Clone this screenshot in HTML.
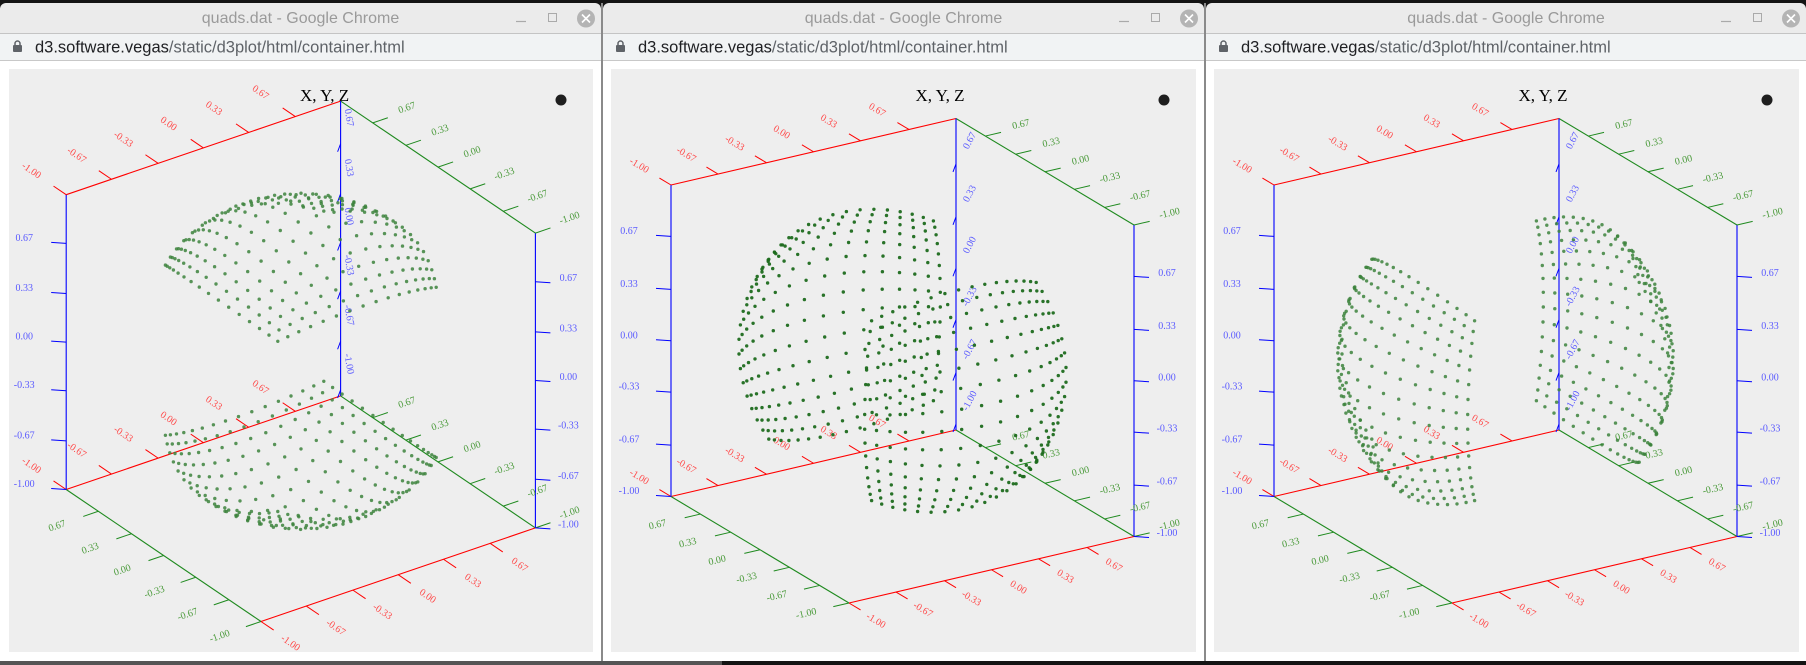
<!DOCTYPE html>
<html><head><meta charset="utf-8"><title>quads.dat</title>
<style>
html,body{margin:0;padding:0;background:#111;}
body{width:1806px;height:665px;overflow:hidden;position:relative;font-family:"Liberation Sans",sans-serif;}
svg{position:absolute;left:0;top:0;}
</style></head>
<body>
<svg id="scene" width="1806" height="665" viewBox="0 0 1806 665" xmlns="http://www.w3.org/2000/svg">
  <rect x="0" y="0" width="1806" height="665" fill="#141414"/>
  <rect x="0" y="661" width="722" height="4" fill="#555"/>
  <g id="windows"></g>
</svg>
<script>
// ---- data ----
const windowNames = ["window-c-faces", "window-b-faces", "window-a-faces"];
const tickValues = [-1.00, -0.67, -0.33, 0.00, 0.33, 0.67];
const tickLabels = ["-1.00", "-0.67", "-0.33", "0.00", "0.33", "0.67"];
const gridU = [-1, -0.8667, -0.7333, -0.6, -0.4667, -0.3333, -0.2, -0.0667, 0.0667, 0.2, 0.3333, 0.4667, 0.6, 0.7333, 0.8667, 1];
const facesW1 = [["c", 1], ["c", -1]];
const facesW2 = [["b", 1], ["b", -1]];
const facesW3 = [["a", 1], ["a", -1]];
const chartTitle = "X, Y, Z";

// ---- layout (not data) ----
const NS = "http://www.w3.org/2000/svg";
const wins = [
  {x0:0, x1:601, px0:9, px1:593, C:[300.8,361.3], R:[137.2,-46.8], G:[-97.4,-66], V:[0,-147.4], cRot:80, cOff:[8,-32], faces:facesW1, dot:"#3c823c", op:0.85},
  {x0:603, x1:1204, px0:611, px1:1196, C:[902.5,360.75], R:[142.5,-33.25], G:[-89,-53.25], V:[0,-155.75], cRot:-62, cOff:[14,-29], faces:facesW2, dot:"#1c6a1c", op:0.95},
  {x0:1206, x1:1806, px0:1214, px1:1799, C:[1505.5,360.75], R:[142.5,-33.25], G:[-89,-53.25], V:[0,-155.75], cRot:-62, cOff:[14,-29], faces:facesW3, dot:"#3c823c", op:0.85}
];
const root = document.getElementById("windows");

function mk(tag, attrs, parent){
  const e = document.createElementNS(NS, tag);
  for (const k in attrs) e.setAttribute(k, attrs[k]);
  parent.appendChild(e);
  return e;
}
function proj(w, a, b, c){
  return [w.C[0] + a*w.R[0] + b*w.G[0] + c*w.V[0], w.C[1] + a*w.R[1] + b*w.G[1] + c*w.V[1]];
}

wins.forEach((w, wi) => {
  const g = mk("g", {}, root);
  
  
  const W = w.x1 - w.x0;
  // chrome
  const tb = mk("rect", {x:w.x0, y:3, width:W, height:31, fill:"#ebebeb", rx:6}, g);
  
  
  mk("rect", {x:w.x0, y:20, width:W, height:14, fill:"#ebebeb"}, g);
  mk("line", {x1:w.x0, y1:33.5, x2:w.x1, y2:33.5, stroke:"#c4c4c4"}, g);
  const tt = mk("text", {x:w.x0+W/2, y:23, "text-anchor":"middle", "font-size":"16", fill:"#9a9a9a", "font-family":"Liberation Sans, sans-serif"}, g);
  tt.textContent = "quads.dat - Google Chrome";
  
  
  const mn = mk("line", {x1:w.x1-85, y1:21.5, x2:w.x1-75, y2:21.5, stroke:"#aaa", "stroke-width":1.2}, g);
  
  
  const mx = mk("rect", {x:w.x1-52.5, y:13.5, width:8, height:8, fill:"none", stroke:"#aaa"}, g);
  
  
  const cl = mk("circle", {cx:w.x1-15, cy:18.5, r:9, fill:"#b4b4b4"}, g);
  
  
  mk("path", {d:`M${w.x1-19} ${14.5}L${w.x1-11} ${22.5}M${w.x1-11} ${14.5}L${w.x1-19} ${22.5}`, stroke:"#fff", "stroke-width":1.6}, g);
  const ub = mk("rect", {x:w.x0, y:34, width:W, height:26, fill:"#f1f3f4"}, g);
  
  
  mk("line", {x1:w.x0, y1:60.5, x2:w.x1, y2:60.5, stroke:"#c8c8c8"}, g);
  const lk = mk("g", {}, g);
  
  
  mk("rect", {x:w.x0+13, y:45, width:9, height:7, fill:"#5f6368", rx:1}, lk);
  mk("path", {d:`M${w.x0+15} 45.5v-2a2.5 2.5 0 0 1 5 0v2`, fill:"none", stroke:"#5f6368", "stroke-width":1.5}, lk);
  const ut = mk("text", {x:w.x0+35, y:52.5, "font-size":"16.5", fill:"#202124", "font-family":"Liberation Sans, sans-serif"}, g);
  
  
  const s1 = mk("tspan", {}, ut); s1.textContent = "d3.software.vegas";
  const s2 = mk("tspan", {fill:"#5f6368"}, ut); s2.textContent = "/static/d3plot/html/container.html";
  mk("rect", {x:w.x0, y:61, width:W, height:600, fill:"#ffffff"}, g);
  if (wi < 2) mk("rect", {x:w.x1, y:3, width:2, height:658, fill:"#8a8a8a"}, g);
  const pa = mk("rect", {x:w.px0, y:69, width:w.px1-w.px0, height:583, fill:"#eeeeee"}, g);
  
  

  // title + dot
  const ttl = mk("text", {x:w.C[0] + (w.R[0]+w.G[0]) - 16, y:101, "text-anchor":"middle", "font-size":"17", fill:"#000", "font-family":"Liberation Serif, serif"}, g);
  ttl.textContent = chartTitle;
  
  
  const dt = mk("circle", {cx:w.x0+561, cy:100, r:5.5, fill:"#1e1e1e"}, g);
  
  

  // axes
  const ax = mk("g", {"font-family":"Liberation Serif, serif", "font-size":"10"}, g);
  
  
  const RED="#ff0000", GRN="#1f8a1f", BLU="#0000ff";
  const LRED="#ff4a4a", LGRN="#4a9a3a", LBLU="#5a5aff";
  function edge(p, q, col, name){
    const A = proj(w, ...p), B = proj(w, ...q);
    const l = mk("line", {x1:A[0], y1:A[1], x2:B[0], y2:B[1], stroke:col, "stroke-width":1.1}, ax);
    
    
  }
  function label(x, y, txt, col, rot, name){
    const t = mk("text", {x:x, y:y, fill:col, "text-anchor":"middle", "dominant-baseline":"central", transform:`rotate(${rot} ${x} ${y})`}, ax);
    t.textContent = txt;
    
    
  }
  const angG = Math.atan2(-w.G[1], -w.G[0])*180/Math.PI;
  const angR = Math.atan2(w.R[1], w.R[0])*180/Math.PI;
  // edges
  edge([-1,1,1],[1,1,1],RED,'x-axis-top');
  edge([1,1,1],[1,-1,1],GRN,'y-axis-top');
  edge([-1,1,-1],[1,1,-1],RED,'x-axis-back-bottom');
  edge([1,1,-1],[1,-1,-1],GRN,'y-axis-back-bottom');
  edge([-1,1,-1],[-1,-1,-1],GRN,'y-axis-front');
  edge([-1,-1,-1],[1,-1,-1],RED,'x-axis-front');
  edge([-1,1,-1],[-1,1,1],BLU,'z-axis-left');
  edge([1,1,-1],[1,1,1],BLU,'z-axis-center');
  edge([1,-1,-1],[1,-1,1],BLU,'z-axis-right');

  tickValues.forEach((v, i) => {
    const lab = tickLabels[i];
    // red edges with b = 1 (top and back bottom)
    [1, -1].forEach(cz => {
      const p = proj(w, v, 1, cz), q = proj(w, v, 1.13, cz), L = proj(w, v, 1.36, cz);
      const t = mk("line", {x1:p[0], y1:p[1], x2:q[0], y2:q[1], stroke:RED}, ax);
      
      
      label(L[0], L[1], lab, LRED, angG, 'x-tick-label');
    });
    // red front edge b = -1
    { const p = proj(w, v, -1, -1), q = proj(w, v, -1.13, -1), L = proj(w, v, -1.3, -1);
      const t = mk("line", {x1:p[0], y1:p[1], x2:q[0], y2:q[1], stroke:RED}, ax);
      
      
      label(L[0], L[1]+2, lab, LRED, angG, 'x-tick-label'); }
    // green edges with a = 1 (top and back bottom); value runs +1 at back
    [1, -1].forEach(cz => {
      const p = proj(w, 1, v, cz), q = proj(w, 1.11, v, cz), L = proj(w, 1.25, v, cz);
      const t = mk("line", {x1:p[0], y1:p[1], x2:q[0], y2:q[1], stroke:GRN}, ax);
      
      
      label(L[0], L[1]-3, lab, LGRN, angR, 'y-tick-label');
    });
    // green front edge a = -1
    { const p = proj(w, -1, v, -1), q = proj(w, -1.11, v, -1), L = proj(w, -1.3, v, -1);
      const t = mk("line", {x1:p[0], y1:p[1], x2:q[0], y2:q[1], stroke:GRN}, ax);
      
      
      label(L[0], L[1]+1, lab, LGRN, angR, 'y-tick-label'); }
    // blue left
    { const p = proj(w, -1, 1, v);
      const t = mk("line", {x1:p[0], y1:p[1], x2:p[0]-15, y2:p[1]-1, stroke:BLU}, ax);
      
      
      label(p[0]-42, p[1]-5, lab, LBLU, 0, 'z-tick-label'); }
    // blue right
    { const p = proj(w, 1, -1, v);
      const t = mk("line", {x1:p[0], y1:p[1], x2:p[0]+15, y2:p[1]+1, stroke:BLU}, ax);
      
      
      label(p[0]+33, p[1]-3, lab, LBLU, 0, 'z-tick-label'); }
    // blue center
    { const p = proj(w, 1, 1, v);
      const t = mk("line", {x1:p[0], y1:p[1]-6, x2:p[0]-3, y2:p[1]+2, stroke:BLU}, ax);
      
      
      label(p[0]+w.cOff[0], p[1]+w.cOff[1], lab, LBLU, w.cRot, 'z-tick-label'); }
  });

  // points: cube-sphere faces
  const pts = mk("g", {fill:w.dot, "fill-opacity":w.op}, g);
  
  
  w.faces.forEach(f => {
    const axis = f[0], s = f[1];
    gridU.forEach(u => {
      gridU.forEach(vv => {
        let a, b, c;
        if (axis === "c") { a = u; b = vv; c = s; }
        else if (axis === "b") { a = u; b = s; c = vv; }
        else { a = s; b = u; c = vv; }
        const n = Math.sqrt(a*a + b*b + c*c);
        const P = proj(w, a/n, b/n, c/n);
        const d = mk("circle", {cx:P[0].toFixed(1), cy:P[1].toFixed(1), r:1.7}, pts);
        
        
      });
    });
  });
});
</script>
</body></html>
